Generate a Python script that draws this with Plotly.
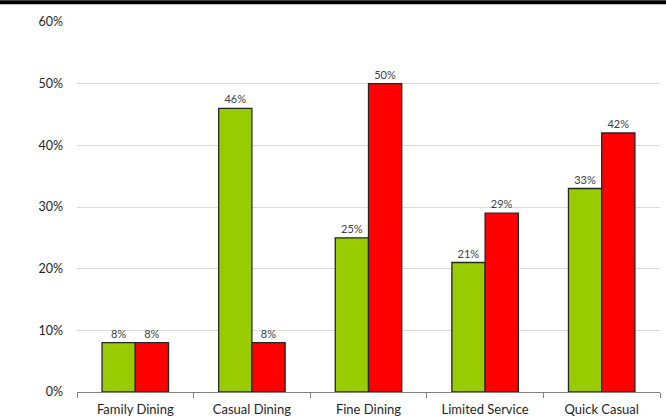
import plotly.graph_objects as go

categories = ["Family Dining", "Casual Dining", "Fine Dining", "Limited Service", "Quick Casual"]
series_green = [8, 46, 25, 21, 33]
series_red = [8, 8, 50, 29, 42]
y_ticks = [0, 10, 20, 30, 40, 50, 60]
y_tick_labels = ["0%", "10%", "20%", "30%", "40%", "50%", "60%"]

fig = go.Figure()
for vals, color in [(series_green, "#99CC00"), (series_red, "#FF0000")]:
    fig.add_trace(go.Bar(
        x=categories, y=vals,
        marker=dict(color=color, line=dict(color="#262626", width=1.3)),
        text=[f"{v}%" for v in vals], textposition="outside",
        textfont=dict(family="Lato, Open Sans, sans-serif", size=11, color="#404040"),
        cliponaxis=False, showlegend=False,
    ))

fig.update_layout(
    width=666, height=419,
    margin=dict(l=77, r=6, t=22, b=27),
    paper_bgcolor="white", plot_bgcolor="white",
    barmode="group", bargap=0.43, bargroupgap=0,
    font=dict(family="Lato, Open Sans, sans-serif", size=12, color="#262626"),
    xaxis=dict(showline=True, linecolor="#808080", linewidth=1, automargin=False,
               ticks="outside", tickson="boundaries", ticklen=5, tickcolor="#808080",
               ticklabelstandoff=5,
               tickfont=dict(size=13, color="#262626")),
    yaxis=dict(range=[0, 60], tickvals=y_ticks, ticktext=y_tick_labels, automargin=False,
               showgrid=True, gridcolor="#D9D9D9", gridwidth=1,
               zeroline=False, showline=False, ticklabelstandoff=13,
               tickfont=dict(size=12.5, color="#262626")),
    shapes=[dict(type="line", xref="paper", yref="paper",
                 x0=-0.14, x1=1.02, y0=1.0535, y1=1.0535,
                 line=dict(color="black", width=4))],
)

fig.write_html("out.html")
